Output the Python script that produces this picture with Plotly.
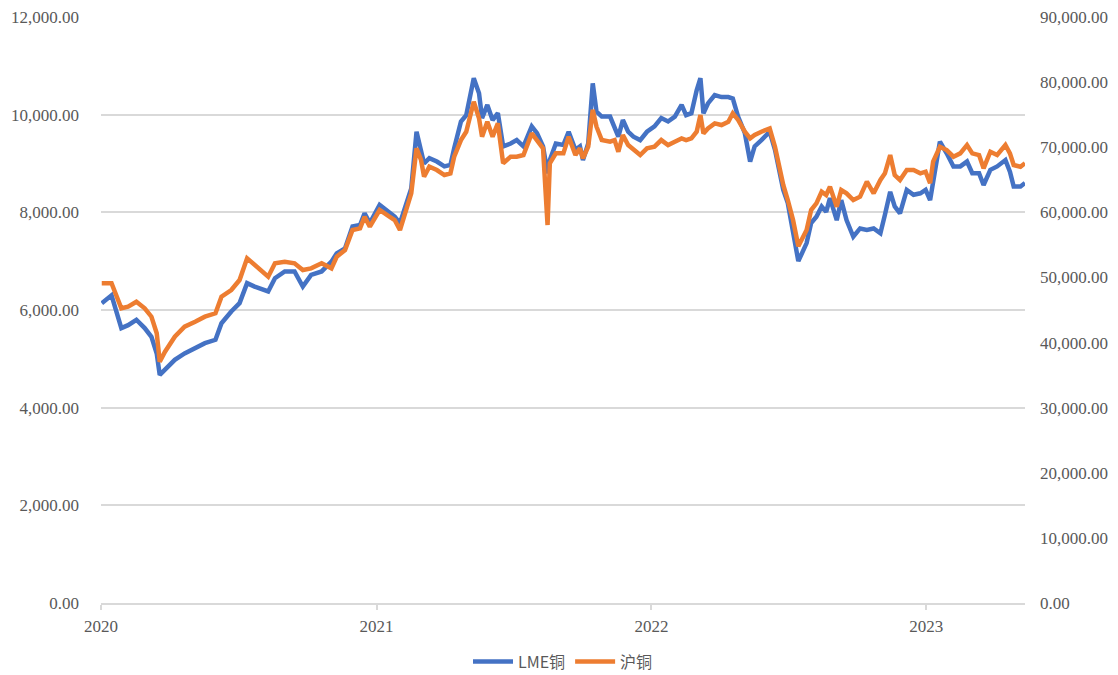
import plotly.graph_objects as go

dates = [
    "2020-01-02","2020-01-15","2020-01-28","2020-02-06","2020-02-17","2020-02-28","2020-03-08","2020-03-15",
    "2020-03-19","2020-03-26","2020-04-08","2020-04-21","2020-05-05","2020-05-18","2020-06-01","2020-06-09",
    "2020-06-22","2020-07-03","2020-07-13","2020-07-23","2020-08-10","2020-08-19","2020-09-01","2020-09-14",
    "2020-09-25","2020-10-06","2020-10-20","2020-11-02","2020-11-09","2020-11-20","2020-11-30","2020-12-10",
    "2020-12-16","2020-12-23","2021-01-05","2021-01-18","2021-01-25","2021-02-01","2021-02-10","2021-02-16",
    "2021-02-23","2021-03-01","2021-03-05","2021-03-12","2021-03-22","2021-04-01","2021-04-09","2021-04-14",
    "2021-04-23","2021-04-30","2021-05-10","2021-05-17","2021-05-21","2021-05-28","2021-06-04","2021-06-11",
    "2021-06-18","2021-06-28","2021-07-06","2021-07-15","2021-07-26","2021-08-02","2021-08-10","2021-08-16",
    "2021-08-19","2021-08-27","2021-09-06","2021-09-13","2021-09-22","2021-09-28","2021-10-02","2021-10-09",
    "2021-10-15","2021-10-20","2021-10-27","2021-11-07","2021-11-13","2021-11-18","2021-11-24","2021-12-01",
    "2021-12-08","2021-12-17","2021-12-26","2022-01-05","2022-01-14","2022-01-23","2022-02-01","2022-02-10",
    "2022-02-16","2022-02-23","2022-03-02","2022-03-07","2022-03-11","2022-03-17","2022-03-26","2022-04-04",
    "2022-04-13","2022-04-19","2022-04-26","2022-05-05","2022-05-12","2022-05-18","2022-05-27","2022-06-07",
    "2022-06-14","2022-06-25","2022-07-01","2022-07-08","2022-07-15","2022-07-26","2022-08-01","2022-08-08",
    "2022-08-15","2022-08-21","2022-08-26","2022-09-04","2022-09-10","2022-09-17","2022-09-26","2022-10-05",
    "2022-10-14","2022-10-23","2022-11-01","2022-11-07","2022-11-14","2022-11-20","2022-11-27","2022-12-06",
    "2022-12-15","2022-12-24","2022-12-31","2023-01-06","2023-01-10","2023-01-19","2023-01-28","2023-02-06",
    "2023-02-15","2023-02-24","2023-03-03","2023-03-12","2023-03-18","2023-03-27","2023-04-05","2023-04-16",
    "2023-04-22","2023-04-27","2023-05-06","2023-05-12",
]

lme_copper = [
    6140, 6300, 5630, 5690, 5800, 5630, 5450, 5110,
    4670, 4770, 4980, 5110, 5220, 5320, 5390, 5730,
    5970, 6140, 6550, 6480, 6380, 6650, 6790, 6790,
    6480, 6720, 6790, 6990, 7160, 7260, 7710, 7740,
    7980, 7780, 8150, 8010, 7910, 7780, 8250, 8490,
    9650, 9240, 9000, 9110, 9040, 8940, 8970, 9310,
    9860, 9990, 10745, 10440, 9930, 10200, 9890, 10030,
    9350, 9410, 9480, 9350, 9760, 9620, 9350, 8800,
    9070, 9410, 9380, 9650, 9280, 9350, 9070, 9410,
    10640, 10060, 9960, 9960, 9720, 9550, 9890, 9650,
    9550, 9480, 9650, 9760, 9930, 9860, 9960, 10200,
    9990, 10030, 10500, 10745, 10030, 10230, 10400, 10360,
    10360, 10330, 9960, 9620, 9040, 9350, 9480, 9650,
    9280, 8460, 8190, 7640, 7000, 7370, 7780, 7910,
    8120, 8010, 8290, 7840, 8250, 7840, 7500, 7670,
    7640, 7670, 7570, 7950, 8420, 8120, 7980, 8460,
    8360, 8390, 8460, 8250, 8600, 9450, 9210, 8940,
    8940, 9040, 8800, 8800, 8560, 8870, 8940, 9070,
    8830, 8530, 8530, 8600,
]

shfe_copper = [
    49100, 49100, 45260, 45500, 46270, 45260, 43970, 41420,
    37060, 38600, 40900, 42430, 43200, 43970, 44490, 47050,
    48070, 49600, 52940, 51910, 50120, 52170, 52420, 52170,
    51140, 51400, 52170, 51400, 53180, 54210, 57280, 57540,
    59330, 57790, 60360, 59330, 58820, 57280, 60870, 62920,
    69830, 68040, 65470, 67010, 66500, 65730, 65990, 68550,
    71100, 72380, 76990, 74440, 71620, 73920, 71620, 73660,
    67530, 68550, 68550, 68800, 72120, 71100, 69830, 58050,
    67530, 69060, 69060, 71620, 68800, 69830, 68300, 70080,
    75750, 73150, 71100, 70850, 71100, 69310, 71880, 70340,
    69570, 68800, 69830, 70080, 71100, 70340, 70850, 71360,
    71100, 71360, 72380, 74950, 72120, 72890, 73660, 73410,
    73920, 75210, 74190, 72380, 71360, 71880, 72380, 72890,
    70080, 64200, 61890, 58820, 54800, 57280, 60360, 61380,
    63170, 62660, 63940, 60870, 63430, 62920, 61890, 62400,
    64710, 62920, 64970, 65990, 68800, 65730, 64970, 66500,
    66500, 65990, 66240, 64460, 67780, 70080, 69570, 68550,
    69060, 70340, 69060, 68800, 66760, 69310, 68800, 70340,
    69060, 67270, 67010, 67530,
]

year_ticks = ["2020-01-01", "2021-01-01", "2022-01-01", "2023-01-01"]
year_labels = ["2020", "2021", "2022", "2023"]

BLUE = "#4472C4"
ORANGE = "#ED7D31"
GRID = "#D9D9D9"
TXT = "#595959"
SERIF = '"Liberation Serif", "Times New Roman", serif'

fig = go.Figure()
fig.add_trace(go.Scatter(x=dates, y=lme_copper, name="LME铜", mode="lines",
                         line=dict(color=BLUE, width=4.5), yaxis="y"))
fig.add_trace(go.Scatter(x=dates, y=shfe_copper, name="沪铜", mode="lines",
                         line=dict(color=ORANGE, width=4.5), yaxis="y2"))

# the page body adds an 8px offset, so the figure is sized/margined to compensate
fig.update_layout(
    width=1110, height=667,
    margin=dict(l=93, r=93, t=9, b=72, autoexpand=False),
    paper_bgcolor="white", plot_bgcolor="white",
    showlegend=True,
    legend=dict(orientation="h", x=0.5, xanchor="center", y=-0.1, yanchor="middle",
                font=dict(family='"Noto Sans CJK SC", sans-serif', size=16, color=TXT),
                itemwidth=40),
    xaxis=dict(
        type="date", range=["2020-01-01", "2023-05-12"], automargin=False,
        tickmode="array", tickvals=year_ticks, ticktext=year_labels,
        showgrid=False, showline=True, linecolor=GRID, linewidth=1.5,
        ticks="outside", ticklen=5, tickcolor=GRID, tickwidth=1.5,
        tickfont=dict(family=SERIF, size=17, color=TXT),
        ticklabelstandoff=2, ticklabeloverflow="allow",
    ),
    yaxis=dict(
        range=[0, 12000], dtick=2000, tickformat=",.2f", automargin=False,
        showgrid=True, gridcolor=GRID, gridwidth=1.5, zeroline=False,
        showline=False, ticks="",
        tickfont=dict(family=SERIF, size=17, color=TXT),
        ticklabelstandoff=21, ticklabeloverflow="allow",
    ),
    yaxis2=dict(
        range=[0, 90000], dtick=10000, tickformat=",.2f", automargin=False,
        overlaying="y", side="right", showgrid=False, zeroline=False,
        showline=False, ticks="",
        tickfont=dict(family=SERIF, size=17, color=TXT),
        ticklabelstandoff=14, ticklabeloverflow="allow",
    ),
)

fig.write_html("out.html")
